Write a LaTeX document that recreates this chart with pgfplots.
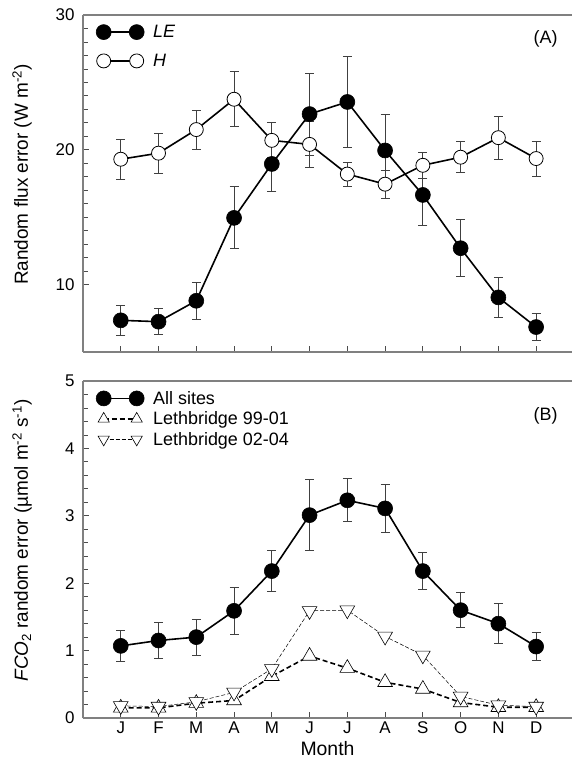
\documentclass[border=0pt]{standalone}
\usepackage{pgfplots}
\usepackage{pgfplotstable}
\pgfplotsset{compat=1.18}
\usepackage{fontspec}
\setmainfont{Liberation Sans}

\pgfplotstableread{
m  le    lee   h     he
1  7.35  1.10  19.30 1.47
2  7.25  0.95  19.75 1.50
3  8.80  1.38  21.50 1.45
4  14.95 2.30  23.75 2.05
5  18.95 2.00  20.70 1.30
6  22.65 3.05  20.40 1.70
7  23.55 3.40  18.20 0.90
8  19.95 2.70  17.45 1.05
9  16.65 2.25  18.85 0.95
10 12.70 2.10  19.45 1.15
11 9.05  1.45  20.90 1.60
12 6.85  1.00  19.35 1.30
}\toptable

\pgfplotstableread{
m  all   alle  la    lb
1  1.07  0.23  0.15  0.18
2  1.15  0.27  0.15  0.17
3  1.20  0.27  0.22  0.24
4  1.59  0.35  0.26  0.38
5  2.18  0.30  0.62  0.73
6  3.01  0.53  0.92  1.59
7  3.23  0.32  0.74  1.60
8  3.11  0.36  0.53  1.21
9  2.18  0.27  0.43  0.93
10 1.60  0.26  0.23  0.32
11 1.40  0.30  0.16  0.19
12 1.06  0.21  0.16  0.17
}\bottable

\begin{document}
\begin{tikzpicture}
\pgfplotsset{
  base/.style={
    scale only axis, width=489bp, height=337bp,
    xmin=0, xmax=12.95,
    axis x line=box, axis y line=left,
    axis line style={draw=black!50, line width=1.1pt, -},
    xtick={1,...,12},
    xtick pos=bottom, ytick pos=left,
    tick align=inside,
    major tick length=6bp, minor tick length=5bp,
    every tick/.style={black!70, line width=0.8pt},
    tick label style={font=\fontsize{17}{20}\selectfont},
    yticklabel style={xshift=-5bp},
    every axis y label/.style={at={(axis description cs:0,0.5)}, rotate=90, anchor=center, yshift=61bp, xshift=9bp, font=\fontsize{19}{22}\selectfont},
    every axis x label/.style={at={(axis description cs:0.5,0)}, anchor=center, inner sep=1bp, yshift=-31bp, font=\fontsize{19.5}{23}\selectfont},
    /pgf/number format/assume math mode=true,
    legend style={draw=none, fill=none, font=\fontsize{18}{21}\selectfont, anchor=north west, at={(0,1)}, xshift=10bp, yshift=-6bp, column sep=7bp},
    legend cell align=left,
    legend image code/.code={\draw[mark repeat=2, mark phase=1, #1] plot coordinates {(0bp,0bp) (16.5bp,0bp) (33bp,0bp)};},
    clip=false,
    error bars/error bar style={black!75, line width=0.8pt},
    error bars/error mark options={black!75, line width=0.8pt, mark size=4.5bp, rotate=90},
  },
  fillc/.style={black, line width=1.6pt, mark=*, mark size=7.5bp, mark options={solid, fill=black, line width=0.6pt}},
  openc/.style={black, line width=1.6pt, mark=*, mark size=7bp, mark options={solid, fill=white, line width=0.8pt}},
  trileg/.style={legend image code/.code={\draw[mark repeat=2, mark phase=1, ##1, mark size=6.5bp] plot coordinates {(0bp,0bp) (16.5bp,0bp) (33bp,0bp)};}},
}
\begin{axis}[base, name=top, at={(0,0)}, anchor=north west,
  ymin=5, ymax=30, ytick={10,20,30}, minor y tick num=9,
  xticklabels={},
  legend style={row sep=11bp},
  ylabel={Random flux error (W m\textsuperscript{-2})},
]
\addplot[fillc, error bars/.cd, y dir=both, y explicit] table[x=m, y=le, y error=lee] {\toptable};
\addlegendentry{\textit{LE}}
\addplot[openc, error bars/.cd, y dir=both, y explicit] table[x=m, y=h, y error=he] {\toptable};
\addlegendentry{\textit{H}}
\node[anchor=north east, inner sep=0pt, font=\fontsize{18}{21}\selectfont] at (rel axis cs:0.971,0.955) {(A)};
\end{axis}

\begin{axis}[base, name=bot, at={(0,-366bp)}, anchor=north west,
  ymin=0, ymax=5, ytick={0,1,2,3,4,5}, minor y tick num=4,
  xticklabels={J,F,M,A,M,J,J,A,S,O,N,D},
  xlabel={Month},
  legend style={row sep=2bp},
  ylabel={\textit{FCO}\textsubscript{2} random error (µmol m\textsuperscript{-2} s\textsuperscript{-1})},
]
\addplot[fillc, error bars/.cd, y dir=both, y explicit] table[x=m, y=all, y error=alle] {\bottable};
\addlegendentry{All sites\rule[-9bp]{0pt}{1bp}}
\addplot[black, line width=1.6pt, dash pattern=on 5pt off 3pt, mark=triangle*, mark size=8.5bp, mark options={solid, fill=white, line width=0.6pt}, trileg] table[x=m, y=la] {\bottable};
\addlegendentry{Lethbridge 99-01}
\addplot[black, line width=0.5pt, dash pattern=on 4pt off 2pt, mark=triangle*, mark size=8.5bp, mark options={solid, fill=white, line width=0.6pt, rotate=180}, trileg] table[x=m, y=lb] {\bottable};
\addlegendentry{Lethbridge 02-04}
\node[anchor=north east, inner sep=0pt, font=\fontsize{18}{21}\selectfont] at (rel axis cs:0.971,0.923) {(B)};
\end{axis}
\pgfresetboundingbox
\useasboundingbox (-83bp,15bp) rectangle (489bp,-747bp);
\end{tikzpicture}
\end{document}
